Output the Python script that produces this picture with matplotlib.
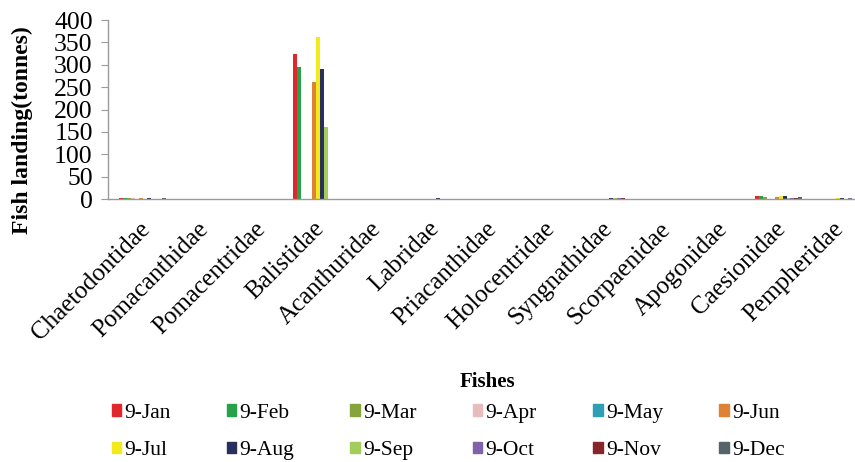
import numpy as np
import matplotlib.pyplot as plt
import matplotlib.transforms as mtransforms
from matplotlib.patches import Patch

plt.rcParams['font.family'] = ['Liberation Serif', 'DejaVu Serif']

fishes = ["Chaetodontidae", "Pomacanthidae", "Pomacentridae", "Balistidae",
          "Acanthuridae", "Labridae", "Priacanthidae", "Holocentridae",
          "Syngnathidae", "Scorpaenidae", "Apogonidae", "Caesionidae",
          "Pempheridae"]
months = ["9-Jan", "9-Feb", "9-Mar", "9-Apr", "9-May", "9-Jun",
          "9-Jul", "9-Aug", "9-Sep", "9-Oct", "9-Nov", "9-Dec"]
colors = ["#e0282c", "#27a24a", "#86a33c", "#e8bcbc", "#2f9fb5", "#e08235",
          "#f2ea1a", "#28305f", "#a3cd5a", "#7f62a8", "#86262a", "#56636b"]

# landings (tonnes), one list per month, in fish order
jan = [3, 0, 0, 325, 0, 0, 0, 0, 0, 0, 0, 7, 0]
feb = [3, 0, 0, 295, 0, 0, 0, 0, 0, 0, 0, 6, 1]
mar = [2, 0, 0, 0, 0, 0, 0, 0, 0, 0, 0, 5, 1]
apr = [2, 0, 0, 0, 0, 0, 0, 0, 0, 0, 0, 0, 0]
may = [1, 0, 0, 0, 0, 0, 0, 0, 0, 0, 0, 0, 0]
jun = [2, 0, 0, 262, 0, 0, 0, 0, 0, 0, 0, 5, 1]
jul = [1, 0, 0, 363, 0, 0, 0, 0, 0, 0, 0, 7, 2]
aug = [2, 0, 0, 290, 0, 3, 0, 0, 2, 0, 0, 6, 2]
sep = [1, 0, 0, 162, 0, 0, 0, 0, 2, 0, 0, 3, 1]
oct_ = [0, 0, 0, 0, 0, 0, 0, 0, 2, 0, 0, 3, 2]
nov = [0, 0, 0, 0, 0, 0, 0, 0, 2, 0, 0, 3, 1]
dec = [2, 0, 0, 0, 0, 0, 0, 0, 0, 0, 0, 4, 2]
series = [jan, feb, mar, apr, may, jun, jul, aug, sep, oct_, nov, dec]

W, H = 855, 462
CAT_PX = 57.8          # pixels per category
AX_W_PX = 760          # plot area runs past the right edge (cropped original)
fig = plt.figure(figsize=(W / 100, H / 100), dpi=100)
ax = fig.add_axes([108 / W, (H - 199) / H, AX_W_PX / W, 179 / H])

x = np.arange(len(fishes)) + 0.5
bw = 0.0675
for i, (vals, c) in enumerate(zip(series, colors)):
    ax.bar(x + (i - 5.5) * bw, vals, width=bw, color=c, linewidth=0)

lo = -6 / CAT_PX
ax.set_xlim(lo, lo + AX_W_PX / CAT_PX)
ax.set_ylim(0, 400)
ax.set_yticks(np.arange(0, 401, 50))
ax.tick_params(axis='y', labelsize=18.5, length=5, color='#9a9a9a', pad=6)
ax.tick_params(axis='x', length=0, pad=19)
for s in ['top', 'right']:
    ax.spines[s].set_visible(False)
for s in ['left', 'bottom']:
    ax.spines[s].set_color('#9a9a9a')
    ax.spines[s].set_linewidth(1.0)

ax.set_xticks(x)
ax.set_xticklabels(fishes, rotation=45, ha='right', va='center',
                   rotation_mode='anchor', fontsize=18)
shift = mtransforms.ScaledTranslation(4 / 100, 0, fig.dpi_scale_trans)
for lab in ax.get_xticklabels():
    lab.set_transform(lab.get_transform() + shift)

fig.text(22 / W, (H - 130) / H, "Fish landing(tonnes)", rotation=90,
         ha='center', va='center', fontsize=17, fontweight='bold')
fig.text(487 / W, (H - 382) / H, "Fishes", ha='center', va='center',
         fontsize=15, fontweight='bold')

handles = [Patch(color=c, label=m) for m, c in zip(months, colors)]
order = [j for i in range(6) for j in (i, i + 6)]
fig.legend([handles[k] for k in order], [months[k] for k in order],
           ncol=6, loc='center', bbox_to_anchor=(448 / W, (H - 432) / H),
           frameon=False, fontsize=15.5, handlelength=0.45, handleheight=0.45,
           handletextpad=0.15, columnspacing=2.6, labelspacing=0.85,
           borderpad=0)

fig.savefig("out.png", dpi=100)
